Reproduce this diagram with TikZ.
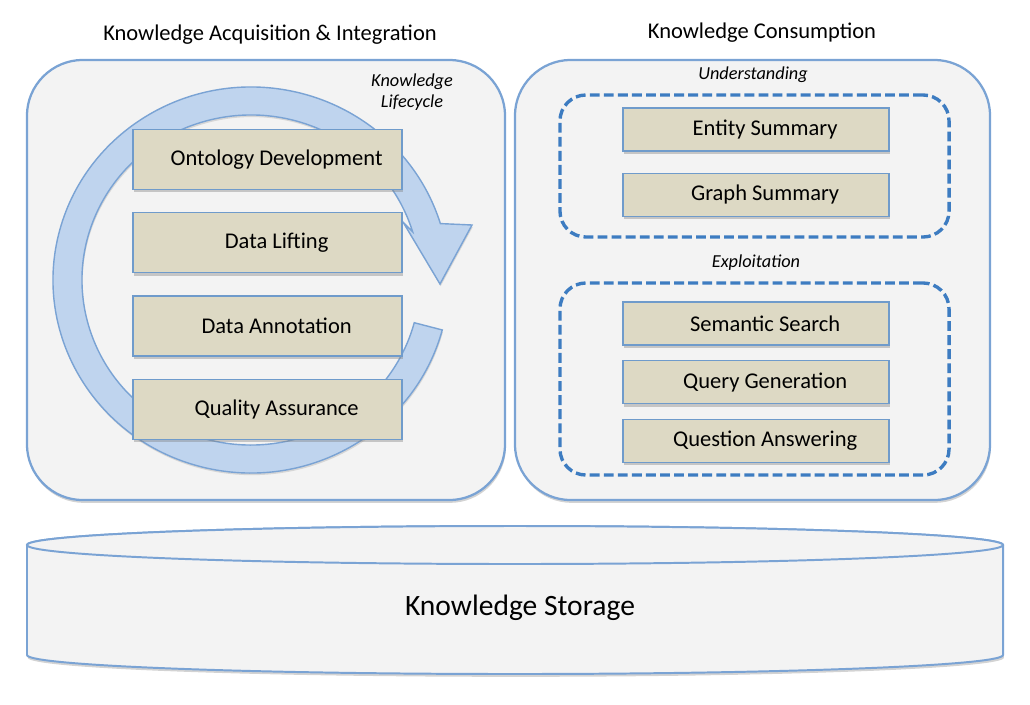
\documentclass[tikz,border=0pt]{standalone}
\usepackage{fontspec}
\setmainfont{Carlito}
\usetikzlibrary{
	positioning,
	shadows,
	calc
}
\definecolor{panelblue}{HTML}{7AA3D4}
\definecolor{panelgray}{HTML}{F3F3F3}
\definecolor{ringblue}{HTML}{BFD4EE}
\definecolor{taskfill}{HTML}{DDD9C4}
\definecolor{taskline}{HTML}{6F9BCB}
\definecolor{dashblue}{HTML}{3D7CC1}
\tikzset{
	panel/.style={
		draw=panelblue,
		line width=1.6pt,
		fill=panelgray,
		rounded corners=1.4cm,
		drop shadow={shadow xshift=0.6pt, shadow yshift=-2pt, opacity=0.35}
	},
	group/.style={
		draw=dashblue,
		line width=2.4pt,
		dash pattern=on 7pt off 3pt,
		rounded corners=0.65cm
	},
	task/.style={
		draw=taskline,
		line width=0.9pt,
		fill=taskfill,
		font=\fontsize{16}{19}\selectfont,
		execute at begin node={\hspace*{13pt}},
		drop shadow={shadow xshift=0.8pt, shadow yshift=-2pt, opacity=0.4}
	},
	bigtask/.style={
		task,
		minimum width=6.725cm,
		minimum height=1.5cm
	},
	smalltask/.style={
		task,
		minimum width=6.65cm,
		minimum height=1.075cm
	},
	title/.style={
		font=\fontsize{16}{19}\selectfont
	},
	tag/.style={
		font=\itshape\fontsize{13}{15}\selectfont,
		align=center
	},
	ring/.style={
		fill=ringblue,
		draw=panelblue,
		line width=1pt,
		drop shadow={shadow xshift=0.5pt, shadow yshift=-1.5pt, opacity=0.25}
	},
	store/.style={
		fill=panelgray,
		draw=panelblue,
		line width=1.4pt
	}
}

\begin{document}
\begin{tikzpicture}[x=0.025cm, y=-0.025cm] %%%%%%%% LAYERS
	\useasboundingbox (0,0) rectangle (1030,704);
	% storage
	\path[store, drop shadow={shadow xshift=0.6pt, shadow yshift=-2pt, opacity=0.35}]
		(27,545) -- (27,655)
		arc[start angle=180, end angle=0, x radius=488, y radius=19]
		-- (1003,545)
		arc[start angle=0, end angle=-180, x radius=488, y radius=19]
		-- cycle;
	\draw[store] (515,545) ellipse [x radius=488, y radius=19];
	\node[font=\fontsize{21}{25}\selectfont] (storage) at (520,608) {Knowledge Storage};
	% panels
	\node[panel, minimum width=11.95cm, minimum height=11cm] (acq) at (266,280) {};
	\node[panel, minimum width=11.875cm, minimum height=11cm] (cons) at (752.5,280) {};
	\node[title] (acqtitle) at (270,35) {Knowledge Acquisition \& Integration};
	\node[title] (constitle) at (762,33) {Knowledge Consumption};
	% lifecycle
	\coordinate (ringc) at (251,280);
	\path[ring] (ringc) ++(15:198 and 193)
		arc[start angle=15, end angle=343, x radius=198, y radius=193]
		-- (472,225) -- (440,284) -- (403,222)
		-- ($(ringc)+(343:169 and 165)$)
		arc[start angle=343, end angle=15, x radius=169, y radius=165]
		-- cycle;
	\node[tag] (lifecycle) at (412,92) {Knowledge\\Lifecycle};
	\node[bigtask] (onto) at (267.5,159.5) {Ontology Development};
	\node[bigtask, below=0.55cm of onto] (lift) {Data Lifting};
	\node[bigtask, below=0.55cm of lift] (annot) {Data Annotation};
	\node[bigtask, below=0.55cm of annot] (qa) {Quality Assurance};
	% consumption
	\node[group, minimum width=9.725cm, minimum height=3.55cm] (und) at (754.5,166) {};
	\node[group, minimum width=9.725cm, minimum height=4.8cm] (expl) at (754.5,379) {};
	\node[tag] (undtag) at (753,75) {Understanding};
	\node[tag] (expltag) at (756,263) {Exploitation};
	\node[smalltask] (entity) at (756,129.5) {Entity Summary};
	\node[smalltask, below=0.525cm of entity] (graph) {Graph Summary};
	\node[smalltask] (search) at (756,323.5) {Semantic Search};
	\node[smalltask, below=0.36cm of search] (query) {Query Generation};
	\node[smalltask, below=0.36cm of query] (answer) {Question Answering};
\end{tikzpicture}
\end{document}
